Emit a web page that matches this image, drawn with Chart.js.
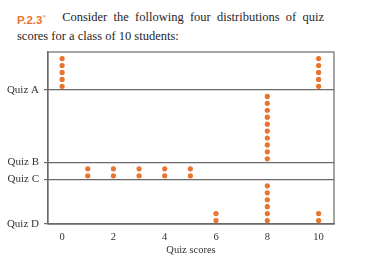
<!DOCTYPE html>
<html>
<head>
<meta charset="utf-8">
<script src="https://cdn.jsdelivr.net/npm/chart.js@4"></script>
<style>
  html, body { margin: 0; padding: 0; background: #fff; }
  #wrap { position: relative; width: 367px; height: 261px; }
  #heading {
    position: absolute; left: 17px; top: 9px; width: 307px;
    font-family: "Liberation Serif", serif; font-size: 12.5px; line-height: 16px;
    color: #262626;
  }
  #heading .l1 { white-space: nowrap; display: flex; justify-content: space-between; }
  #heading .lead { margin-right: 10px; }
  #heading .num { font-family: "Liberation Sans", sans-serif; font-weight: bold; color: #e8742f; font-size: 11.5px; }
  #heading sup { color: #e8742f; font-size: 7px; }
  canvas { position: absolute; left: 0; top: 0; }
</style>
</head>
<body>
<div id="wrap">
  <div id="heading">
    <div class="l1"><span class="lead"><span class="num">P.2.3</span><sup>*</sup></span><span>Consider</span><span>the</span><span>following</span><span>four</span><span>distributions</span><span>of</span><span>quiz</span></div>
    <div>scores for a class of 10 students:</div>
  </div>
  <canvas id="chart" width="367" height="261"></canvas>
</div>
<script>
// scores of the 10 students in each quiz
const quizNames = ['Quiz A', 'Quiz B', 'Quiz C', 'Quiz D'];
const quizA = [0, 0, 0, 0, 0, 10, 10, 10, 10, 10];
const quizB = [8, 8, 8, 8, 8, 8, 8, 8, 8, 8];
const quizC = [1, 1, 2, 2, 3, 3, 4, 4, 5, 5];
const quizD = [6, 6, 8, 8, 8, 8, 8, 8, 10, 10];
const xTicks = [0, 2, 4, 6, 8, 10];

const quizScores = [quizA, quizB, quizC, quizD];
const dotColor = '#e8742f';
const lineColor = '#6a6a6a';

function maxStack(scores) {
  const counts = {};
  scores.forEach(s => counts[s] = (counts[s] || 0) + 1);
  return Math.max(...Object.values(counts));
}

// strips are stacked from Quiz D (bottom) up to Quiz A, each as tall as its highest pile
const gap = 0.45;
const bases = [];
let level = 0;
for (let i = quizScores.length - 1; i >= 0; i--) {
  bases[i] = level;
  level += maxStack(quizScores[i]) + gap;
}
const yTop = level;

const datasets = quizScores.map((scores, i) => {
  const seen = {};
  const pts = scores.map(s => {
    const k = seen[s] || 0;
    seen[s] = k + 1;
    return { x: s, y: bases[i] + 0.5 + k };
  });
  return {
    label: quizNames[i],
    data: pts,
    backgroundColor: dotColor,
    borderWidth: 0,
    pointRadius: 2.6,
    pointHoverRadius: 2.6
  };
});

const frame = {
  id: 'frame',
  afterDraw(chart) {
    const { ctx, chartArea: a } = chart;
    ctx.save();
    ctx.strokeStyle = lineColor;
    ctx.lineWidth = 1.2;
    ctx.strokeRect(a.left, a.top, a.right - a.left, a.bottom - a.top);
    ctx.restore();
  }
};

const yOrder = quizNames.map((n, i) => ({ name: n, value: bases[i] })).sort((p, q) => p.value - q.value);

new Chart(document.getElementById('chart'), {
  type: 'scatter',
  data: { datasets },
  options: {
    responsive: false,
    animation: false,
    events: [],
    layout: { padding: { left: 0, right: 33, top: 52, bottom: 0 } },
    plugins: { legend: { display: false }, tooltip: { enabled: false } },
    scales: {
      x: {
        min: -0.55, max: 10.6,
        afterBuildTicks: s => { s.ticks = xTicks.map(v => ({ value: v })); },
        afterFit: s => { s.height = 37; },
        grid: { display: false, drawTicks: false },
        border: { color: lineColor, width: 1.2 },
        ticks: { color: '#333', padding: 7, font: { family: 'Liberation Serif', size: 10.5 } },
        title: {
          display: true, text: 'Quiz scores', color: '#333',
          padding: { top: 0, bottom: 4 },
          font: { family: 'Liberation Serif', size: 10.5 }
        }
      },
      y: {
        min: 0, max: yTop,
        afterBuildTicks: s => { s.ticks = yOrder.map(o => ({ value: o.value })); },
        afterFit: s => { s.width = 48; },
        grid: { color: lineColor, lineWidth: 1.2, tickLength: 4 },
        border: { color: lineColor, width: 1.2 },
        ticks: {
          color: '#333', padding: 5,
          font: { family: 'Liberation Serif', size: 11 },
          callback: (v, i) => yOrder[i].name
        }
      }
    }
  },
  plugins: [frame]
});
</script>
</body>
</html>
